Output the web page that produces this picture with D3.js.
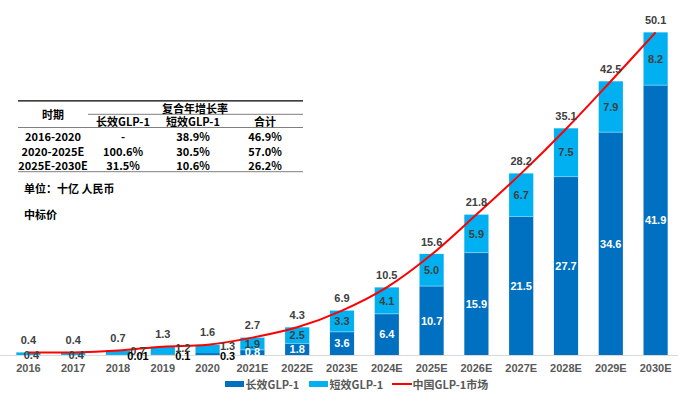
<!DOCTYPE html>
<html>
<head>
<meta charset="utf-8">
<script src="https://cdn.jsdelivr.net/npm/d3@7"></script>
<style>
  html, body { margin: 0; padding: 0; background: #fff; }
  svg { display: block; }
</style>
</head>
<body>
<svg id="chart" width="691" height="398"></svg>
<script>
const years = ['2016', '2017', '2018', '2019', '2020', '2021E', '2022E', '2023E', '2024E', '2025E', '2026E', '2027E', '2028E', '2029E', '2030E']
const longActing = [0, 0, 0.01, 0.1, 0.3, 0.8, 1.8, 3.6, 6.4, 10.7, 15.9, 21.5, 27.7, 34.6, 41.9]
const shortActing = [0.4, 0.4, 0.7, 1.2, 1.3, 1.9, 2.5, 3.3, 4.1, 5.0, 5.9, 6.7, 7.5, 7.9, 8.2]
const marketTotal = [0.4, 0.4, 0.7, 1.3, 1.6, 2.7, 4.3, 6.9, 10.5, 15.6, 21.8, 28.2, 35.1, 42.5, 50.1]

const seriesNames = ['长效GLP-1', '短效GLP-1', '中国GLP-1市场']

const cagrPeriods = ['2016-2020', '2020-2025E', '2025E-2030E']
const cagrLong = ['-', '100.6%', '31.5%']
const cagrShort = ['38.9%', '30.5%', '10.6%']
const cagrTotal = ['46.9%', '57.0%', '26.2%']

const C_LONG = '#0070C0'
const C_SHORT = '#00B0F0'
const C_LINE = '#FF0000'
const NUM_FONT = '"Liberation Sans", Arial, sans-serif'
const CJK_FONT = '"Noto Sans CJK SC", "Liberation Sans", sans-serif'

const svg = d3.select('#chart')
const baseY = 355

const x = d3.scaleBand().domain(years).range([6, 678]).paddingInner(0.46).paddingOuter(0.23)
const y = d3.scaleLinear().domain([0, 55]).range([baseY, 0.8])

const rows = years.map((yr, i) => ({ yr, i, long: longActing[i], short: shortActing[i], total: marketTotal[i] }))

// axis line
svg.append('line')
  .attr('x1', 0).attr('x2', 678)
  .attr('y1', baseY + 0.5).attr('y2', baseY + 0.5)
  .attr('stroke', '#d9d9d9').attr('stroke-width', 1.2)

// bars
const bars = svg.append('g')
bars.selectAll('rect.long').data(rows).join('rect')
  .attr('class', 'long')
  .attr('x', (d) => x(d.yr))
  .attr('width', x.bandwidth())
  .attr('y', (d) => y(d.long))
  .attr('height', (d) => baseY - y(d.long))
  .attr('fill', C_LONG)
bars.selectAll('rect.short').data(rows).join('rect')
  .attr('class', 'short')
  .attr('x', (d) => x(d.yr))
  .attr('width', x.bandwidth())
  .attr('y', (d) => y(d.long + d.short))
  .attr('height', (d) => y(d.long) - y(d.long + d.short))
  .attr('fill', C_SHORT)
// thin light edge between segments
bars.selectAll('line.sep').data(rows.filter((d) => d.long > 0.5)).join('line')
  .attr('x1', (d) => x(d.yr)).attr('x2', (d) => x(d.yr) + x.bandwidth())
  .attr('y1', (d) => y(d.long)).attr('y2', (d) => y(d.long))
  .attr('stroke', '#7fd0f5').attr('stroke-width', 0.8)

// line
const line = d3.line()
  .x((d) => x(d.yr) + x.bandwidth() / 2)
  .y((d) => y(d.total))
  .curve(d3.curveCardinal.tension(0))
svg.append('path').datum(rows)
  .attr('d', line)
  .attr('fill', 'none')
  .attr('stroke', C_LINE)
  .attr('stroke-width', 2)

const labels = svg.append('g')
  .attr('font-family', NUM_FONT)
  .attr('font-size', 11)
  .attr('font-weight', 'bold')
  .attr('text-anchor', 'middle')
  .attr('dominant-baseline', 'central')

const cx = (d) => x(d.yr) + x.bandwidth() / 2
const small = (d) => d.total < 2

// total labels
labels.selectAll('text.tot').data(rows).join('text')
  .attr('x', cx)
  .attr('y', (d) => y(d.total) - 12.5)
  .attr('fill', '#404040')
  .text((d) => d.total.toFixed(1))

// short segment labels
labels.selectAll('text.sh').data(rows).join('text')
  .attr('x', (d) => small(d) ? cx(d) + (d.long > 0 ? 20 : 3) : cx(d))
  .attr('y', (d) => {
    if (!small(d)) return (y(d.long) + y(d.long + d.short)) / 2
    return d.long > 0 ? y(d.total) + 1 : baseY
  })
  .attr('fill', '#404040')
  .text((d) => d.short.toFixed(1))

// long segment labels
labels.selectAll('text.lg').data(rows.filter((d) => d.long > 0)).join('text')
  .attr('x', (d) => small(d) ? cx(d) + 20 : cx(d))
  .attr('y', (d) => small(d) ? baseY + 0.5 : (baseY + y(d.long)) / 2)
  .attr('fill', (d) => small(d) ? '#000' : '#fff')
  .text((d) => d.long < 0.05 ? String(d.long) : d.long.toFixed(1))

// x axis labels
svg.append('g')
  .selectAll('text').data(years).join('text')
  .attr('x', (d) => x(d) + x.bandwidth() / 2)
  .attr('y', 368)
  .attr('text-anchor', 'middle')
  .attr('dominant-baseline', 'central')
  .attr('font-family', NUM_FONT)
  .attr('font-size', 11)
  .attr('font-weight', 'bold')
  .attr('fill', '#595959')
  .text((d) => d)

// legend
const legend = svg.append('g')
  .attr('font-family', CJK_FONT)
  .attr('font-size', 11)
  .attr('font-weight', 'bold')
  .attr('fill', '#595959')
const legendItems = [
  { name: seriesNames[0], x: 225, kind: 'rect', color: C_LONG },
  { name: seriesNames[1], x: 309, kind: 'rect', color: C_SHORT },
  { name: seriesNames[2], x: 392, kind: 'line', color: C_LINE }
]
legendItems.forEach((it) => {
  if (it.kind === 'rect') {
    legend.append('rect').attr('x', it.x).attr('y', 381).attr('width', 19).attr('height', 6).attr('fill', it.color)
  } else {
    legend.append('line').attr('x1', it.x).attr('x2', it.x + 20).attr('y1', 384).attr('y2', 384)
      .attr('stroke', it.color).attr('stroke-width', 2)
  }
  legend.append('text')
    .attr('x', it.x + 20.5).attr('y', 384)
    .attr('dominant-baseline', 'central')
    .text(it.name)
})

// CAGR table
const table = svg.append('g')
  .attr('font-family', CJK_FONT)
  .attr('font-size', 11)
  .attr('font-weight', 'bold')
  .attr('fill', '#000')
  .attr('text-anchor', 'middle')
const tblL = 18
const tblR = 303
const colX = [53, 123, 193, 265]
table.append('line').attr('x1', tblL).attr('x2', tblR).attr('y1', 100.8).attr('y2', 100.8)
  .attr('stroke', '#000').attr('stroke-width', 1.2)
table.append('line').attr('x1', 88).attr('x2', tblR).attr('y1', 114.3).attr('y2', 114.3)
  .attr('stroke', '#7f7f7f').attr('stroke-width', 1)
table.append('line').attr('x1', tblL).attr('x2', tblR).attr('y1', 127.5).attr('y2', 127.5)
  .attr('stroke', '#7f7f7f').attr('stroke-width', 1)
table.append('line').attr('x1', tblL).attr('x2', tblR).attr('y1', 171.7).attr('y2', 171.7)
  .attr('stroke', '#7f7f7f').attr('stroke-width', 1)

table.append('text').attr('x', colX[0]).attr('y', 114).attr('dominant-baseline', 'central').text('时期')
table.append('text').attr('x', 195).attr('y', 107.5).attr('dominant-baseline', 'central').text('复合年增长率')
;['长效GLP-1', '短效GLP-1', '合计'].forEach((h, j) => {
  table.append('text').attr('x', colX[j + 1]).attr('y', 121.2).attr('dominant-baseline', 'central').text(h)
})
const rowY = [135.5, 150.5, 165]
cagrPeriods.forEach((p, i) => {
  const cells = [p, cagrLong[i], cagrShort[i], cagrTotal[i]]
  cells.forEach((c, j) => {
    table.append('text').attr('x', colX[j]).attr('y', rowY[i]).attr('dominant-baseline', 'central').text(c)
  })
})

// notes
const notes = svg.append('g')
  .attr('font-family', CJK_FONT)
  .attr('font-size', 11)
  .attr('font-weight', 'bold')
  .attr('fill', '#000')
notes.append('text').attr('x', 24).attr('y', 188).attr('dominant-baseline', 'central').text('单位：十亿 人民币')
notes.append('text').attr('x', 24).attr('y', 214).attr('dominant-baseline', 'central').text('中标价')
</script>
</body>
</html>
